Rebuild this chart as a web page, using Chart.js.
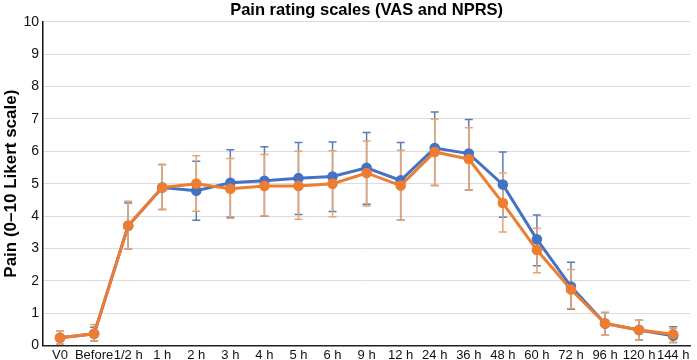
<!DOCTYPE html>
<html>
<head>
<meta charset="utf-8">
<script src="https://cdn.jsdelivr.net/npm/chart.js@4"></script>
<style>
  html, body { margin: 0; padding: 0; background: #fff; }
  canvas { display: block; }
</style>
</head>
<body>
<canvas id="painChart" width="697" height="360"></canvas>
<script>
const labels = ['V0', 'Before', '1/2 h', '1 h', '2 h', '3 h', '4 h', '5 h', '6 h', '9 h', '12 h', '24 h', '36 h', '48 h', '60 h', '72 h', '96 h', '120 h', '144 h']

// VAS (blue)
const vasMean = [0.24, 0.36, 3.7, 4.88, 4.78, 5.03, 5.09, 5.17, 5.22, 5.49, 5.1, 6.1, 5.93, 4.97, 3.28, 1.82, 0.68, 0.48, 0.3]
const vasLow = [0.04, 0.14, 2.97, 4.2, 3.87, 3.96, 3.99, 4.05, 4.14, 4.36, 3.87, 4.94, 4.8, 3.96, 2.46, 1.12, 0.32, 0.17, 0.09]
const vasHigh = [0.44, 0.56, 4.4, 5.59, 5.69, 6.05, 6.14, 6.27, 6.29, 6.58, 6.27, 7.21, 6.98, 5.98, 4.03, 2.57, 1.02, 0.78, 0.58]

// NPRS (orange)
const nprsMean = [0.24, 0.36, 3.7, 4.88, 5.0, 4.84, 4.93, 4.93, 5.0, 5.33, 4.94, 5.98, 5.76, 4.4, 2.95, 1.73, 0.68, 0.48, 0.35]
const nprsLow = [0.04, 0.14, 2.97, 4.2, 4.15, 3.93, 4.0, 3.9, 3.98, 4.31, 3.87, 4.94, 4.8, 3.51, 2.25, 1.14, 0.32, 0.17, 0.09]
const nprsHigh = [0.44, 0.65, 4.46, 5.59, 5.86, 5.78, 5.9, 6.0, 6.02, 6.32, 6.03, 7.0, 6.73, 5.33, 3.62, 2.35, 1.02, 0.78, 0.53]

const FONT = 'Liberation Sans, Arial, sans-serif'

// draws the SD whiskers behind the lines
const errorBars = {
	id: 'errorBars',
	beforeDatasetsDraw(chart) {
		const { ctx, scales } = chart
		const x = scales.x
		const y = scales.y
		// blue first, orange on top
		const sets = [...chart.data.datasets].sort((a, b) => b.order - a.order)
		sets.forEach(ds => {
			ctx.save()
			ctx.strokeStyle = ds.barColor
			ctx.lineWidth = 1.5
			ds.data.forEach((v, i) => {
				const px = x.getPixelForValue(i)
				const lo = y.getPixelForValue(ds.low[i])
				const hi = y.getPixelForValue(ds.high[i])
				ctx.beginPath()
				ctx.moveTo(px, lo)
				ctx.lineTo(px, hi)
				ctx.moveTo(px - 4, lo)
				ctx.lineTo(px + 4, lo)
				ctx.moveTo(px - 4, hi)
				ctx.lineTo(px + 4, hi)
				ctx.stroke()
			})
			ctx.restore()
		})
	},
}

new Chart(document.getElementById('painChart'), {
	type: 'line',
	data: {
		labels: labels,
		datasets: [
			{
				label: 'VAS',
				data: vasMean,
				low: vasLow,
				high: vasHigh,
				order: 2,
				borderColor: '#4472c4',
				backgroundColor: '#4472c4',
				barColor: '#5b7bb8',
				borderWidth: 3,
				pointRadius: 3.8,
				pointHoverRadius: 3.8,
			},
			{
				label: 'NPRS',
				data: nprsMean,
				low: nprsLow,
				high: nprsHigh,
				order: 1,
				borderColor: '#ed7d31',
				backgroundColor: '#ed7d31',
				barColor: '#e9a46e',
				borderWidth: 3,
				pointRadius: 3.8,
				pointHoverRadius: 3.8,
			},
		],
	},
	options: {
		responsive: false,
		animation: false,
		layout: { padding: { left: 1, right: 0, top: 0, bottom: 0 } },
		plugins: {
			legend: { display: false },
			tooltip: { enabled: false },
			title: {
				display: true,
				text: 'Pain rating scales (VAS and NPRS)',
				fullSize: false,
				color: '#000',
				font: { family: FONT, size: 16.5, weight: 'bold', lineHeight: 1.2 },
				padding: { top: 1, bottom: 1 },
			},
		},
		scales: {
			x: {
				offset: true,
				grid: { display: false, drawTicks: false },
				border: { color: '#222', width: 1.5 },
				ticks: {
					color: '#111',
					font: { family: FONT, size: 13, lineHeight: 1 },
					padding: 3,
					maxRotation: 0,
					autoSkip: false,
				},
				afterFit: s => {
					s.height = 14.5
				},
			},
			y: {
				min: 0,
				max: 10,
				grid: { color: '#dcdcdc', lineWidth: 1, drawTicks: false },
				border: { color: '#111', width: 1.5 },
				ticks: {
					stepSize: 1,
					color: '#111',
					font: { family: FONT, size: 14 },
					padding: 4,
				},
				title: {
					display: true,
					text: 'Pain (0–10 Likert scale)',
					color: '#000',
					font: { family: FONT, size: 17, weight: 'bold' },
					padding: { top: 0, bottom: 1 },
				},
				afterFit: s => {
					s.width = 42
				},
			},
		},
	},
	plugins: [errorBars],
})
</script>
</body>
</html>
